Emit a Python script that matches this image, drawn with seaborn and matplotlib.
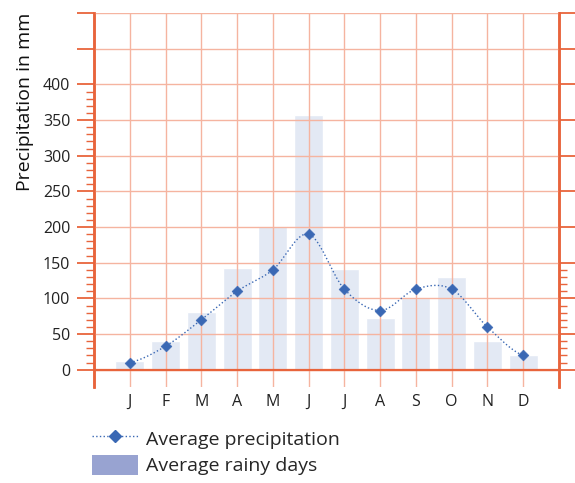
import matplotlib.pyplot as plt
import matplotlib.ticker as mticker
from matplotlib.lines import Line2D
from matplotlib.patches import Patch
import seaborn as sns
import numpy as np
import pandas as pd

months = ["J", "F", "M", "A", "M", "J", "J", "A", "S", "O", "N", "D"]
precipitation = [10, 33, 70, 110, 140, 190, 113, 83, 113, 113, 60, 20]
rainy_days = [1.2, 4.0, 8.1, 14.2, 20.1, 35.7, 14.1, 7.2, 10.0, 13.0, 4.0, 2.1]

ORANGE = "#e8643c"
GRID = "#f5b4a0"
LINE = "#3a68b4"
BAR = "#e3e9f4"
BAR_LEGEND = "#98a3d1"

sns.set_theme(style="white")
plt.rcParams["font.family"] = ["Open Sans", "DejaVu Sans"]

fig = plt.figure(figsize=(5.75, 4.83), dpi=100)
ax = fig.add_axes([0.1635, 0.199, 0.8085, 0.774])
ax2 = ax.twinx()

df = pd.DataFrame({"month": range(12), "precip": precipitation, "days": rainy_days})

# bars (rainy days) on the secondary axis, scaled 1 day = 10 mm
sns.barplot(data=df, x="month", y="days", ax=ax2, color=BAR,
            width=0.81, saturation=1, zorder=1)
ax2.set_ylim(-2.4, 50)
ax2.set_ylabel("")
ax2.set_yticks(np.arange(0, 51, 5))
ax2.set_yticklabels([])
ax2.yaxis.set_minor_locator(mticker.FixedLocator([v for v in range(1, 15) if v % 5]))
ax2.tick_params(axis="y", which="major", direction="out", length=12, width=1.3, color=ORANGE)
ax2.tick_params(axis="y", which="minor", direction="out", length=6, width=1, color=ORANGE)

# line on primary axis, drawn on top
ax.set_zorder(ax2.get_zorder() + 1)
ax.patch.set_visible(False)

x = np.arange(12, dtype=float)
p = np.array(precipitation, dtype=float)
pp = np.concatenate([[p[0]], p, [p[-1]]])
xs, ys = [], []
for i in range(11):
    m0 = (pp[i + 2] - pp[i]) / 2
    m1 = (pp[i + 3] - pp[i + 1]) / 2
    t = np.linspace(0, 1, 25)
    h00 = 2 * t**3 - 3 * t**2 + 1
    h10 = t**3 - 2 * t**2 + t
    h01 = -2 * t**3 + 3 * t**2
    h11 = t**3 - t**2
    xs.append(x[i] + t)
    ys.append(h00 * p[i] + h10 * m0 + h01 * p[i + 1] + h11 * m1)
ax.plot(np.concatenate(xs), np.concatenate(ys), color=LINE, lw=1, ls=":", zorder=4)
sns.scatterplot(data=df, x="month", y="precip", ax=ax, marker="D", s=30,
                color=LINE, edgecolor=LINE, zorder=5, legend=False)

ax.set_xlim(-1, 12)
ax.set_ylim(-24, 500)
ax2.set_xlim(-1, 12)

ax.set_yticks(np.arange(0, 501, 50))
ax.set_yticklabels([str(v) if v <= 400 else "" for v in range(0, 501, 50)], fontsize=11.5, color="#222222")
ax.yaxis.set_minor_locator(mticker.FixedLocator([v for v in range(10, 400, 10) if v % 50]))
ax.tick_params(axis="y", which="major", direction="out", length=12, width=1.3, color=ORANGE, pad=5)
ax.tick_params(axis="y", which="minor", direction="out", length=6, width=1, color=ORANGE, left=True)
ax.set_xticks(range(12))
ax.set_xticklabels(months, fontsize=11.5, color="#222222")
ax.tick_params(axis="x", length=0, pad=5)
ax.set_xlabel("")
ax.set_ylabel("Precipitation in mm", fontsize=14, color="#111111")
ax.yaxis.set_label_coords(-0.13, 0.762)

ax.grid(True, which="major", axis="both", color=GRID, lw=1)
ax.axhline(0, color=ORANGE, lw=1.6, zorder=3)

for a in (ax, ax2):
    for s in ("top", "bottom"):
        a.spines[s].set_visible(False)
    for s in ("left", "right"):
        a.spines[s].set_color(ORANGE)
        a.spines[s].set_linewidth(1.8)
ax2.grid(False)

handles = [
    Line2D([0], [0], color=LINE, lw=1, ls=":", marker="D", markersize=6.5),
    Patch(facecolor=BAR_LEGEND, edgecolor="none"),
]
fig.legend(handles, ["Average precipitation", "Average rainy days"],
           loc="upper left", bbox_to_anchor=(0.16, 0.114), frameon=False,
           fontsize=14, handlelength=2.35, handleheight=1.25, labelspacing=0.3,
           handletextpad=0.45, borderaxespad=0, borderpad=0)

plt.savefig("out.png", dpi=100)
plt.close()
